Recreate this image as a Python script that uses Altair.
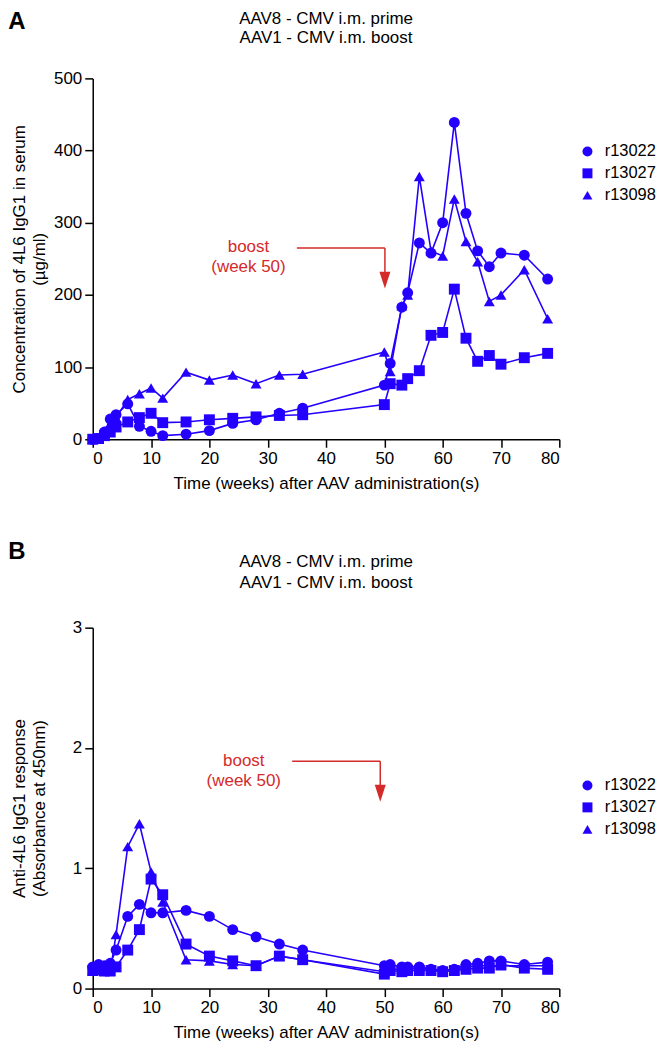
import altair as alt
import pandas as pd

FONT = "Liberation Sans"
BLUE = "#2400ff"
RED = "#d42a2a"

weeks = [0, 1, 2, 3, 4, 6, 8, 10, 12, 16, 20, 24, 28, 32, 36,
         50, 51, 53, 54, 56, 58, 60, 62, 64, 66, 68, 70, 74, 78]
animals = ["r13022", "r13027", "r13098"]
shapes = ["circle", "square", "triangle-up"]

# Panel A: concentration of 4L6 IgG1 in serum (ug/ml)
conc_r13022 = [0, 1, 10, 28, 34, 49, 18, 11, 5, 7, 12, 22, 27, 36, 43,
               75, 105, 183, 203, 272, 258, 300, 439, 313, 261, 239, 258, 255, 222]
conc_r13027 = [0, 1, 5, 10, 17, 24, 30, 36, 23, 24, 27, 29, 31, 33, 34,
               48, 77, 75, 84, 95, 144, 148, 208, 140, 108, 116, 104, 113, 119]
conc_r13098 = [0, 2, 8, 20, 30, 55, 63, 71, 57, 93, 82, 89, 77, 89, 90,
               121, 94, 185, 200, 364, 261, 254, 333, 274, 246, 191, 200, 235, 167]

# Panel B: anti-4L6 IgG1 response (absorbance at 450 nm)
abs_r13022 = [0.18, 0.20, 0.19, 0.21, 0.32, 0.60, 0.70, 0.63, 0.63, 0.65, 0.60, 0.49, 0.43, 0.37, 0.32,
              0.19, 0.20, 0.18, 0.18, 0.18, 0.16, 0.15, 0.16, 0.20, 0.21, 0.23, 0.23, 0.20, 0.22]
abs_r13027 = [0.15, 0.16, 0.15, 0.15, 0.18, 0.32, 0.49, 0.91, 0.78, 0.37, 0.27, 0.23, 0.19, 0.27, 0.24,
              0.12, 0.15, 0.14, 0.15, 0.15, 0.15, 0.14, 0.15, 0.16, 0.17, 0.17, 0.20, 0.17, 0.16]
abs_r13098 = [0.15, 0.15, 0.14, 0.14, 0.45, 1.18, 1.37, 0.97, 0.72, 0.24, 0.23, 0.20, 0.19, 0.27, 0.24,
              0.14, 0.16, 0.16, 0.16, 0.17, 0.16, 0.15, 0.16, 0.18, 0.19, 0.19, 0.19, 0.19, 0.19]

title_lines = ["AAV8 - CMV i.m. prime", "AAV1 - CMV i.m. boost"]
x_title = "Time (weeks) after AAV administration(s)"
boost_text = ["boost", "(week 50)"]

ARROW_HEAD = "M-0.65,-1L0.65,-1L0,1Z"
W, H = 468, 362


def long_df(series):
    rows = []
    for name, vals in zip(animals, series):
        for w, v in zip(weeks, vals):
            rows.append({"week": w, "value": v, "animal": name})
    return pd.DataFrame(rows)


def text_layer(txt, x, y, size, weight="normal", color="black", baseline="alphabetic"):
    d = pd.DataFrame({"t": [txt]})
    return alt.Chart(d).mark_text(font=FONT, fontSize=size, fontWeight=weight,
                                  align="center", baseline=baseline,
                                  color=color).encode(
        text="t:N", x=alt.value(x), y=alt.value(y))


def panel(series, letter, letter_y, title_y, title_gap, legend_y, ytitle, ymax, ymajor, yminor,
          boost_xy, line_y, line_x0, arrow_x, arrow_y):
    df = long_df(series)
    xs = alt.Scale(domain=[0, 80], nice=False, zero=False)
    ys = alt.Scale(domain=[0, ymax], nice=False)
    xvals = list(range(0, 81, 5))
    nmin = int(round(ymax / yminor))
    yvals = [round(i * yminor, 3) for i in range(nmin + 1)]

    x_enc = alt.X("week:Q", scale=xs, title=x_title,
                  axis=alt.Axis(values=xvals,
                                labelExpr="datum.value % 10 === 0 ? datum.label : ''",
                                tickSize={"expr": "datum.value % 10 === 0 ? 8 : 5"},
                                grid=False, titlePadding=9, labelPadding=3))
    ycond = "abs(datum.value / " + str(ymajor) + " - round(datum.value / " + str(ymajor) + ")) < 1e-6"
    y_enc = alt.Y("value:Q", scale=ys, title=ytitle,
                  axis=alt.Axis(values=yvals, format="d",
                                labelExpr=ycond + " ? datum.label : ''",
                                tickSize={"expr": ycond + " ? 8 : 5"},
                                grid=False, titleX=-64, labelPadding=3))

    base = alt.Chart(df)
    lines = base.mark_line(color=BLUE, strokeWidth=1.6).encode(
        x=x_enc, y=y_enc, detail="animal:N", order="week:Q")
    points = base.mark_point(filled=True, color=BLUE, opacity=1, size=120).encode(
        x="week:Q", y="value:Q",
        shape=alt.Shape("animal:N",
                        scale=alt.Scale(domain=animals, range=shapes),
                        legend=alt.Legend(title=None, orient="none",
                                          legendX=488, legendY=legend_y,
                                          labelFontSize=16.5, labelFont=FONT,
                                          labelColor="black", padding=0,
                                          symbolSize=100, symbolFillColor=BLUE,
                                          symbolStrokeColor=BLUE,
                                          rowPadding=5, labelOffset=9)))

    ann = pd.DataFrame({"week": [boost_xy[0]], "value": [boost_xy[1]]})
    txt = alt.Chart(ann).mark_text(text=boost_text, color=RED, font=FONT,
                                   fontSize=17, lineHeight=20, align="center",
                                   baseline="middle").encode(
        x=alt.X("week:Q", scale=xs), y=alt.Y("value:Q", scale=ys))
    hline_df = pd.DataFrame({"x0": [line_x0], "x1": [arrow_x], "y": [line_y]})
    hline = alt.Chart(hline_df).mark_rule(color=RED, strokeWidth=1.5).encode(
        x=alt.X("x0:Q", scale=xs), x2="x1:Q", y=alt.Y("y:Q", scale=ys))
    vline_df = pd.DataFrame({"x": [arrow_x], "y0": [line_y], "y1": [arrow_y]})
    vline = alt.Chart(vline_df).mark_rule(color=RED, strokeWidth=1.5).encode(
        x=alt.X("x:Q", scale=xs), y=alt.Y("y0:Q", scale=ys), y2="y1:Q")
    head_df = pd.DataFrame({"x": [arrow_x], "y": [arrow_y]})
    head = alt.Chart(head_df).mark_point(shape=ARROW_HEAD, filled=True,
                                         color=RED, opacity=1, size=289).encode(
        x=alt.X("x:Q", scale=xs), y=alt.Y("y:Q", scale=ys))

    lab = text_layer(letter, -76, letter_y, 24, weight="bold", baseline="middle")
    t1 = text_layer(title_lines[0], W / 2, title_y, 17)
    t2 = text_layer(title_lines[1], W / 2, title_y + title_gap, 17)

    return alt.layer(lines, points, txt, hline, vline, head, lab, t1, t2).properties(
        width=W, height=H)


chart_a = panel([conc_r13022, conc_r13027, conc_r13098], "A", -57, -55, 20, 65,
                ["Concentration of 4L6 IgG1 in serum", "(µg/ml)"],
                500, 100, 50,
                boost_xy=(26.7, 266), line_y=265, line_x0=35, arrow_x=50.1, arrow_y=220.5)
chart_b = panel([abs_r13022, abs_r13027, abs_r13098], "B", -76, -61, 21, 150,
                ["Anti-4L6 IgG1 response", "(Absorbance at 450nm)"],
                3, 1, 0.5,
                boost_xy=(25.9, 1.892), line_y=1.89, line_x0=34.2, arrow_x=49.3, arrow_y=1.624)

chart = alt.vconcat(chart_a, chart_b, spacing=49).resolve_scale(
    shape="independent").resolve_legend(shape="independent").properties(
    padding=0
).configure_view(stroke=None).configure_axis(
    domainColor="black", domainWidth=1.5, tickColor="black", tickWidth=1.5,
    labelFont=FONT, labelFontSize=17, labelColor="black",
    titleFont=FONT, titleFontSize=17, titleFontWeight="normal", titleColor="black",
    titleLineHeight=20
).configure_legend(symbolStrokeWidth=1)

chart.save("out.html", embed_options={"renderer": "svg", "actions": False})
